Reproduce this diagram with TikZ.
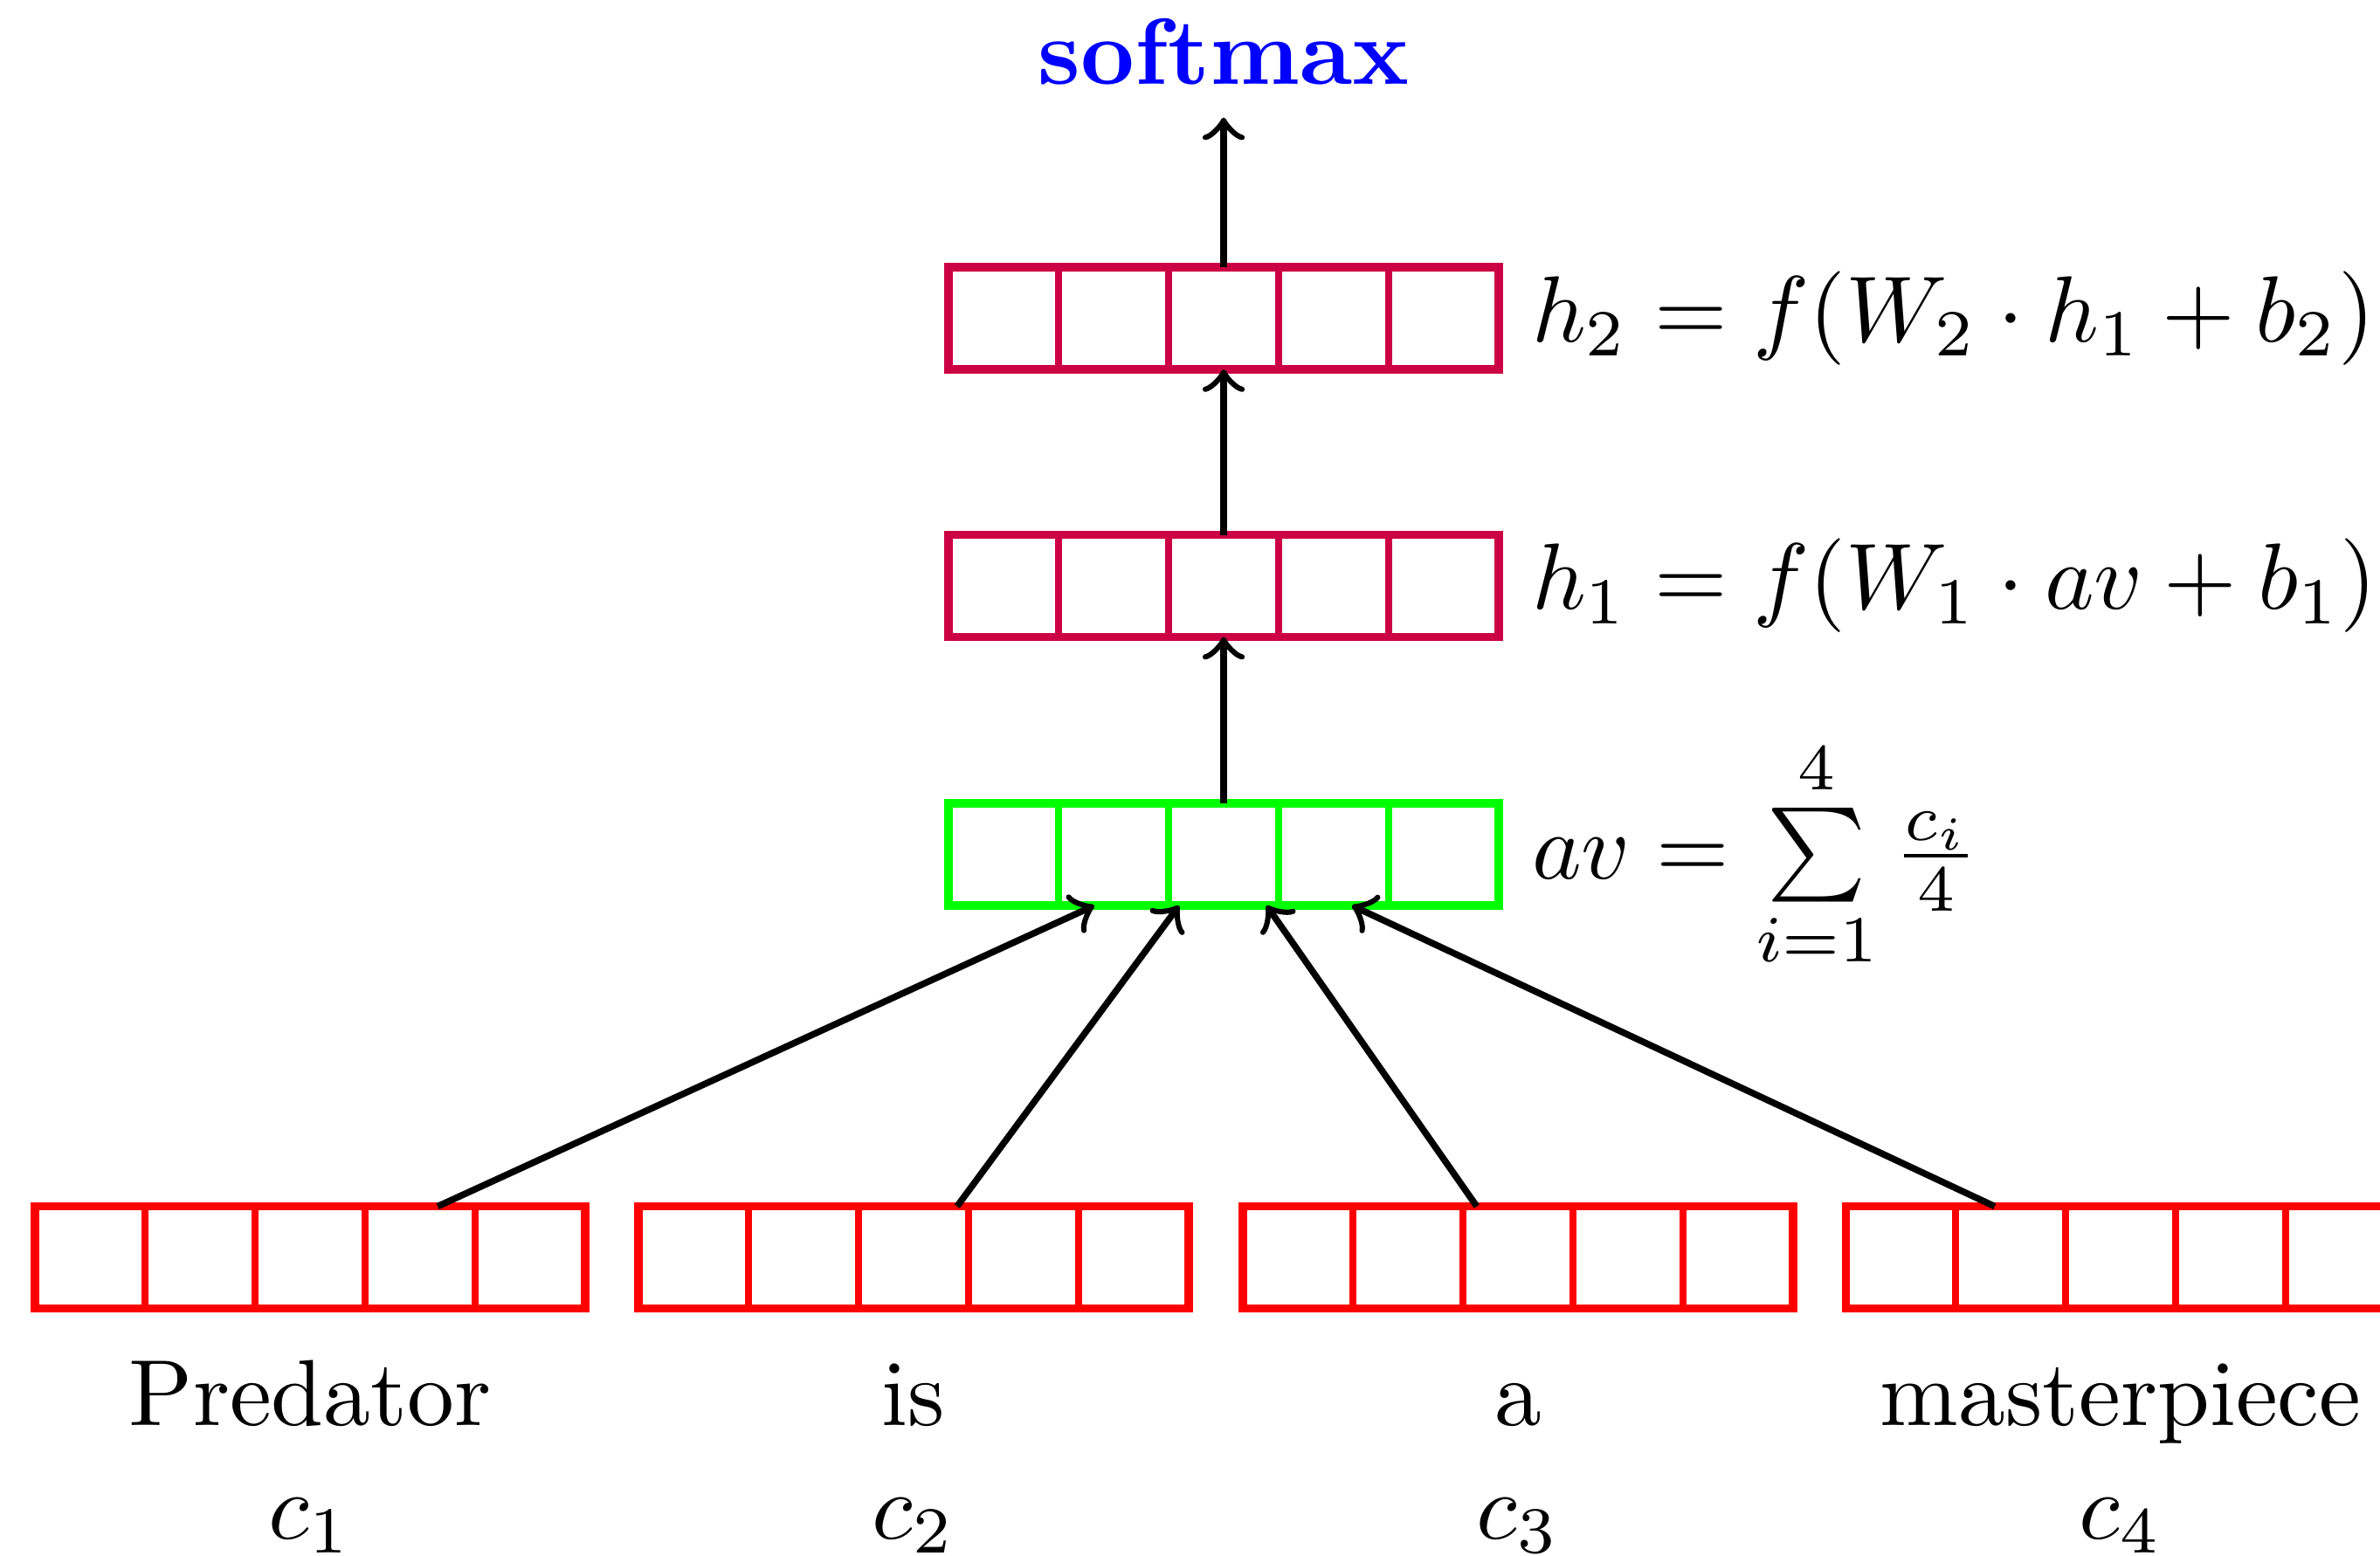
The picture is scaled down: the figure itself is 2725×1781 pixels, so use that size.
\documentclass[tikz,border=0pt]{standalone}
\usetikzlibrary{calc}
\definecolor{hcol}{RGB}{204,0,68}
\begin{document}
\begin{tikzpicture}[x=0.093pt,y=-0.093pt,
  vbox/.style={draw=#1, line width=0.85pt, minimum width=58.59pt, minimum height=10.88pt,
    inner sep=0pt, outer sep=0pt,
    path picture={\foreach \k in {1,2,3,4}{\draw[#1, line width=0.7pt]
      ($(path picture bounding box.south west)!\k/5!(path picture bounding box.south east)$) --
      ($(path picture bounding box.north west)!\k/5!(path picture bounding box.north east)$);}}},
  arr/.style={->, line width=0.7pt, black},
  lbl/.style={anchor=base, inner sep=0pt}]
\useasboundingbox (0,0) rectangle (2725,1781);
% middle stack
\node[vbox=hcol] (h2) at (1401,364.5) {};
\node[vbox=hcol] (h1) at (1401,671) {};
\node[vbox=green] (av) at (1401,978.5) {};
\node[text=blue, font=\bfseries, anchor=base] (sm) at (1401,96) {softmax};
% formulas
\node[anchor=west] (fh2) at (h2.east) {$h_2 = f(W_2\cdot h_1+b_2)$};
\node[anchor=west] (fh1) at (h1.east) {$h_1 = f(W_1\cdot av+b_1)$};
\node[anchor=west] (fav) at (av.east) {$av = \sum\limits_{i=1}^{4} \frac{c_i}{4}$};
% word vectors
\node[vbox=red] (w1) at (355,1440) {};
\node[vbox=red] (w2) at (1046,1440) {};
\node[vbox=red] (w3) at (1738,1440) {};
\node[vbox=red] (w4) at (2428,1440) {};
% words
\node[lbl] (t1) at (355,1632) {Predator};
\node[lbl] (t2) at (1046,1632) {is};
\node[lbl] (t3) at (1738,1632) {a};
\node[lbl] (t4) at (2428,1632) {masterpiece};
\node[lbl] (c1) at (355,1762) {$c_1$};
\node[lbl] (c2) at (1046,1762) {$c_2$};
\node[lbl] (c3) at (1738,1762) {$c_3$};
\node[lbl] (c4) at (2428,1762) {$c_4$};
% connectors
\draw[arr] (h2.north) -- (sm.south);
\draw[arr] (h1.north) -- (h2.south);
\draw[arr] (av.north) -- (h1.south);
\draw[arr] ($(w1.north west)!0.732!(w1.north east)$) -- ($(av.south west)!0.265!(av.south east)$);
\draw[arr] ($(w2.north west)!0.579!(w2.north east)$) -- ($(av.south west)!0.419!(av.south east)$);
\draw[arr] ($(w3.north west)!0.425!(w3.north east)$) -- ($(av.south west)!0.578!(av.south east)$);
\draw[arr] ($(w4.north west)!0.271!(w4.north east)$) -- ($(av.south west)!0.733!(av.south east)$);
\end{tikzpicture}
\end{document}
